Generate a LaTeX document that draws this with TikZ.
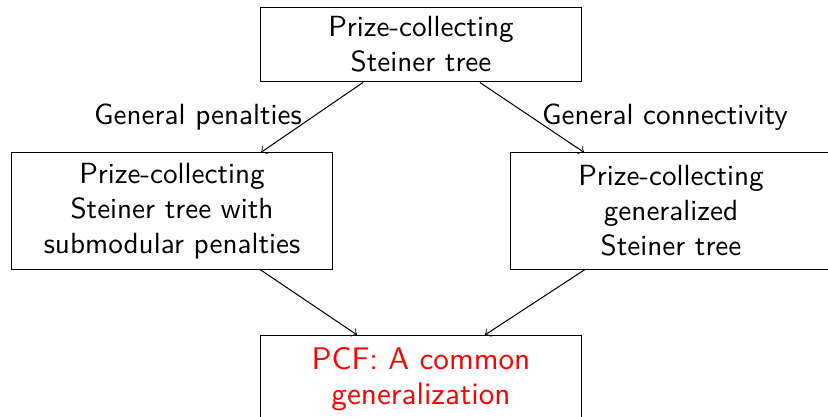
\documentclass[tikz,border=0pt]{standalone}
\usepackage{fontspec}
\setsansfont{Latin Modern Sans}
\renewcommand{\familydefault}{\sfdefault}
\begin{document}
\begin{tikzpicture}[x=0.3429pt,y=-0.3429pt,
  box/.style={draw, line width=0.35pt, align=center, inner sep=0pt, font=\sffamily},
  widebox/.style={box, minimum width=110.4pt, minimum height=39.8pt},
  lab/.style={font=\sffamily, inner sep=0pt},
  arr/.style={->, line width=0.35pt}]
\useasboundingbox (0,0) rectangle (828,417);
\node[box, minimum width=110.4pt, minimum height=25.7pt] (top) at (421,44.5) {Prize-collecting\\Steiner tree};
\node[widebox] (left) at (172,211) {Prize-collecting\\Steiner tree with\\submodular penalties};
\node[widebox] (right) at (671,211) {Prize-collecting\\generalized\\Steiner tree};
\node[widebox, anchor=north, text=red, font=\sffamily\fontsize{10.7}{12}\selectfont] (bottom) at (421,335) {PCF: A common\\generalization\\\mbox{}};
\node[lab] (lp) at (198,117) {General penalties};
\node[lab] (lc) at (665,117) {General connectivity};
\draw[arr] ([xshift=-19.9pt]top.south) -- ([xshift=30.5pt]left.north);
\draw[arr] ([xshift=20.2pt]top.south) -- ([xshift=-29.8pt]right.north);
\draw[arr] ([xshift=30.2pt]left.south) -- ([xshift=-21.9pt]bottom.north);
\draw[arr] ([xshift=-29.5pt]right.south) -- ([xshift=21.9pt]bottom.north);
\end{tikzpicture}
\end{document}
